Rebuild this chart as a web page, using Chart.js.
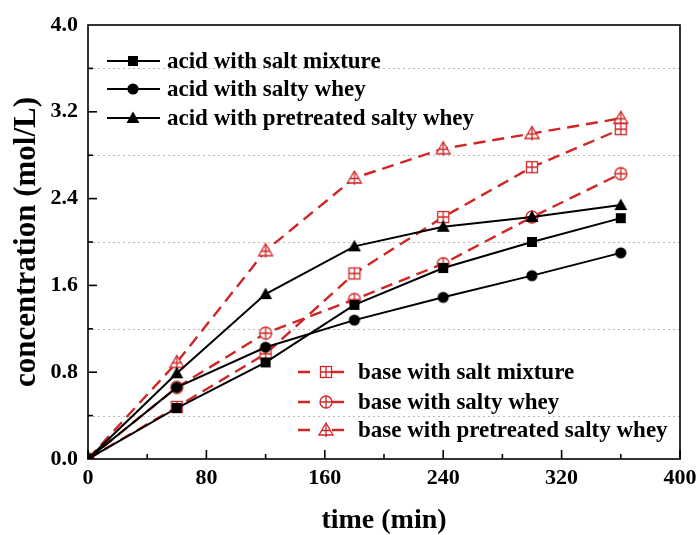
<!DOCTYPE html>
<html>
<head>
<meta charset="utf-8">
<script src="https://cdn.jsdelivr.net/npm/chart.js@4/dist/chart.umd.min.js"></script>
<style>
  html, body { margin: 0; padding: 0; background: #ffffff; }
  #wrap { width: 697px; height: 535px; }
</style>
</head>
<body>
<div id="wrap"><canvas id="c" width="697" height="535"></canvas></div>
<script>
// ---- data ----
const timeMin = [0, 60, 120, 180, 240, 300, 360];
const acidSaltMixture      = [0, 0.47, 0.89, 1.42, 1.76, 2.00, 2.22];
const acidSaltyWhey        = [0, 0.66, 1.03, 1.28, 1.49, 1.69, 1.90];
const acidPretreatedWhey   = [0, 0.79, 1.52, 1.96, 2.14, 2.23, 2.34];
const baseSaltMixture      = [0, 0.48, 0.97, 1.71, 2.23, 2.69, 3.04];
const baseSaltyWhey        = [0, 0.66, 1.16, 1.47, 1.80, 2.23, 2.63];
const basePretreatedWhey   = [0, 0.89, 1.92, 2.59, 2.86, 3.00, 3.14];
const seriesLabels = [
  'acid with salt mixture', 'acid with salty whey', 'acid with pretreated salty whey',
  'base with salt mixture', 'base with salty whey', 'base with pretreated salty whey'
];
const xMajorTicks = [0, 80, 160, 240, 320, 400];
const xMinorTicks = [40, 120, 200, 280, 360];
const yMajorTicks = [0.8, 1.6, 2.4, 3.2];
const yMinorTicks = [0.4, 1.2, 2.0, 2.8, 3.6];

const BLACK = '#000000';
const RED = '#cf2626';
const FONT = '"Liberation Serif", "Times New Roman", serif';

// ---- marker images ----
function makeMarker(kind) {
  const S = 18, c = S / 2;
  const cv = document.createElement('canvas');
  cv.width = S; cv.height = S;
  const g = cv.getContext('2d');
  g.lineWidth = 1.3;
  if (kind === 'sq') {
    g.fillStyle = BLACK; g.fillRect(c - 5, c - 5, 10, 10);
  } else if (kind === 'ci') {
    g.fillStyle = BLACK; g.beginPath(); g.arc(c, c, 5.6, 0, Math.PI * 2); g.fill();
  } else if (kind === 'tr') {
    g.fillStyle = BLACK; g.beginPath();
    g.moveTo(c, c - 6.5); g.lineTo(c + 6.5, c + 5); g.lineTo(c - 6.5, c + 5); g.closePath(); g.fill();
  } else if (kind === 'sqp') {
    g.fillStyle = '#fff'; g.strokeStyle = RED;
    g.fillRect(c - 5.5, c - 5.5, 11, 11);
    g.strokeRect(c - 5.5, c - 5.5, 11, 11);
    g.beginPath(); g.moveTo(c, c - 5.5); g.lineTo(c, c + 5.5); g.moveTo(c - 5.5, c); g.lineTo(c + 5.5, c); g.stroke();
  } else if (kind === 'cip') {
    g.fillStyle = '#fff'; g.strokeStyle = RED;
    g.beginPath(); g.arc(c, c, 6, 0, Math.PI * 2); g.fill(); g.stroke();
    g.beginPath(); g.moveTo(c, c - 6); g.lineTo(c, c + 6); g.moveTo(c - 6, c); g.lineTo(c + 6, c); g.stroke();
  } else if (kind === 'trp') {
    g.fillStyle = '#fff'; g.strokeStyle = RED;
    g.beginPath(); g.moveTo(c, c - 7); g.lineTo(c + 7, c + 5); g.lineTo(c - 7, c + 5); g.closePath(); g.fill(); g.stroke();
    g.beginPath(); g.moveTo(c, c - 7); g.lineTo(c, c + 7); g.moveTo(c - 4.5, c + 0.5); g.lineTo(c + 4.5, c + 0.5); g.stroke();
  }
  return cv;
}
const markers = ['sq', 'ci', 'tr', 'sqp', 'cip', 'trp'].map(makeMarker);

function pts(arr) { return arr.map((v, i) => ({ x: timeMin[i], y: v })); }
const values = [acidSaltMixture, acidSaltyWhey, acidPretreatedWhey, baseSaltMixture, baseSaltyWhey, basePretreatedWhey];

const datasets = values.map((arr, i) => {
  const acid = i < 3;
  return {
    label: seriesLabels[i],
    data: pts(arr),
    borderColor: acid ? BLACK : RED,
    backgroundColor: acid ? BLACK : RED,
    borderWidth: acid ? 2 : 2.4,
    borderDash: acid ? [] : [12, 7],
    pointStyle: markers[i],
    pointRadius: 6,
    pointHoverRadius: 6,
    tension: 0,
    fill: false,
    order: acid ? 0 : 1
  };
});

// ---- frame, grid, inward ticks, legends ----
const framePlugin = {
  id: 'frame',
  beforeDatasetsDraw(chart) {
    const { ctx, chartArea: a, scales: { y } } = chart;
    ctx.save();
    ctx.strokeStyle = '#b8b8b8';
    ctx.lineWidth = 1;
    ctx.setLineDash([2, 3]);
    yMinorTicks.forEach(v => {
      const py = Math.round(y.getPixelForValue(v)) + 0.5;
      ctx.beginPath(); ctx.moveTo(a.left, py); ctx.lineTo(a.right, py); ctx.stroke();
    });
    ctx.restore();
  },
  afterDatasetsDraw(chart) {
    const { ctx, chartArea: a, scales: { x, y } } = chart;
    ctx.save();
    ctx.strokeStyle = BLACK;
    ctx.setLineDash([]);
    ctx.lineWidth = 1.6;
    ctx.strokeRect(a.left, a.top, a.right - a.left, a.bottom - a.top);
    yMajorTicks.forEach(v => {
      const py = y.getPixelForValue(v);
      ctx.beginPath(); ctx.moveTo(a.left, py); ctx.lineTo(a.left + 9, py); ctx.stroke();
    });
    yMinorTicks.forEach(v => {
      const py = y.getPixelForValue(v);
      ctx.beginPath(); ctx.moveTo(a.left, py); ctx.lineTo(a.left + 5, py); ctx.stroke();
    });
    xMajorTicks.forEach(v => {
      const px = x.getPixelForValue(v);
      ctx.beginPath(); ctx.moveTo(px, a.bottom); ctx.lineTo(px, a.bottom - 9); ctx.stroke();
    });
    xMinorTicks.forEach(v => {
      const px = x.getPixelForValue(v);
      ctx.beginPath(); ctx.moveTo(px, a.bottom); ctx.lineTo(px, a.bottom - 5); ctx.stroke();
    });

    // legends
    ctx.font = 'bold 23px ' + FONT;
    ctx.textBaseline = 'middle';
    ctx.textAlign = 'left';
    ctx.fillStyle = BLACK;
    const topRows = [61, 89, 118];
    for (let i = 0; i < 3; i++) {
      const ly = topRows[i];
      ctx.strokeStyle = BLACK; ctx.lineWidth = 2; ctx.setLineDash([]);
      ctx.beginPath(); ctx.moveTo(107, ly); ctx.lineTo(160, ly); ctx.stroke();
      const m = markers[i];
      ctx.drawImage(m, 133 - m.width / 2, ly - m.height / 2);
      ctx.fillText(seriesLabels[i], 167, ly + 1);
    }
    const botRows = [372, 402, 430];
    for (let i = 0; i < 3; i++) {
      const ly = botRows[i];
      ctx.strokeStyle = RED; ctx.lineWidth = 2.4; ctx.setLineDash([]);
      ctx.beginPath(); ctx.moveTo(298, ly); ctx.lineTo(310, ly); ctx.moveTo(332, ly); ctx.lineTo(344, ly); ctx.stroke();
      const m = markers[i + 3];
      ctx.drawImage(m, 326 - m.width / 2, ly - m.height / 2);
      ctx.fillStyle = BLACK;
      ctx.fillText(seriesLabels[i + 3], 358, ly + 1);
    }
    ctx.restore();
  }
};

new Chart(document.getElementById('c'), {
  type: 'line',
  data: { datasets },
  options: {
    responsive: false,
    animation: false,
    events: [],
    layout: { padding: { top: 25, right: 17, left: 0, bottom: 0 } },
    plugins: { legend: { display: false }, tooltip: { enabled: false } },
    scales: {
      x: {
        type: 'linear', min: 0, max: 400,
        grid: { display: false },
        border: { display: false },
        ticks: { stepSize: 80, padding: -2, color: BLACK, font: { family: FONT, size: 22, weight: 'bold' } },
        title: { display: true, text: 'time (min)', color: BLACK, padding: { top: 0, bottom: 0 },
                 font: { family: FONT, size: 28, weight: 'bold', lineHeight: 1 } },
        afterFit(s) { s.height = 76; s.paddingLeft = 0; s.paddingRight = 0; }
      },
      y: {
        type: 'linear', min: 0, max: 4,
        grid: { display: false },
        border: { display: false },
        ticks: { stepSize: 0.8, padding: 2, color: BLACK,
                 font: { family: FONT, size: 22, weight: 'bold' },
                 callback: v => Number(v).toFixed(1) },
        title: { display: true, text: 'concentration (mol/L)', color: BLACK, padding: { top: 11, bottom: 0 },
                 font: { family: FONT, size: 31, weight: 'bold', lineHeight: 1 } },
        afterFit(s) { s.width = 88; s.paddingTop = 0; s.paddingBottom = 0; }
      }
    }
  },
  plugins: [framePlugin]
});
</script>
</body>
</html>
